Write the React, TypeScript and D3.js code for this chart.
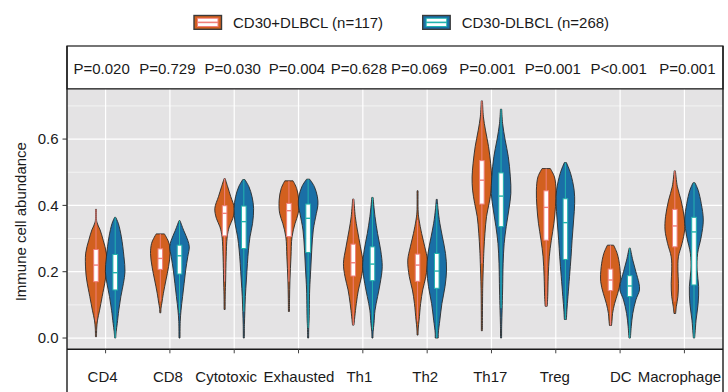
import React from 'react';
import * as d3 from 'd3';

const CATEGORIES = ['CD4', 'CD8', 'Cytotoxic', 'Exhausted', 'Th1', 'Th2', 'Th17', 'Treg', 'DC', 'Macrophage'];
const GROUPS = ['CD30+DLBCL (n=117)', 'CD30-DLBCL (n=268)'];
const P_VALUES = ['P=0.020', 'P=0.729', 'P=0.030', 'P=0.004', 'P=0.628', 'P=0.069', 'P=0.001', 'P=0.001', 'P<0.001', 'P=0.001'];
const Y_MAJOR = [0, 0.2, 0.4, 0.6];
const Y_MINOR = [0.1, 0.3, 0.5, 0.7];

// box stats: [lower whisker, q1, median, q3, upper whisker]
const POS_BOX = [
  [0.05, 0.17, 0.22, 0.267, 0.388],
  [0.11, 0.207, 0.24, 0.269, 0.314],
  [0.17, 0.308, 0.376, 0.399, 0.481],
  [0.17, 0.306, 0.384, 0.406, 0.474],
  [0.039, 0.187, 0.227, 0.283, 0.419],
  [0.05, 0.171, 0.22, 0.253, 0.356],
  [0.225, 0.404, 0.476, 0.535, 0.715],
  [0.096, 0.295, 0.394, 0.444, 0.511],
  [0.038, 0.143, 0.175, 0.208, 0.28],
  [0.11, 0.275, 0.338, 0.388, 0.504],
];
const NEG_BOX = [
  [0.0, 0.145, 0.197, 0.252, 0.364],
  [0.075, 0.193, 0.248, 0.28, 0.354],
  [0.08, 0.27, 0.351, 0.398, 0.478],
  [0.03, 0.258, 0.361, 0.404, 0.479],
  [0.025, 0.173, 0.223, 0.275, 0.424],
  [0.0, 0.15, 0.202, 0.255, 0.404],
  [0.09, 0.336, 0.428, 0.498, 0.69],
  [0.056, 0.237, 0.348, 0.42, 0.529],
  [0.0, 0.125, 0.157, 0.188, 0.271],
  [0.0, 0.16, 0.32, 0.364, 0.468],
];

// violin density profiles: [value, relative density]
const POS_DENS = [
  [[0.388, 0.5], [0.35, 0.8], [0.326, 4], [0.295, 7], [0.256, 10], [0.205, 10], [0.175, 9], [0.125, 6], [0.084, 3.5], [0.054, 1.5], [0.03, 0.7], [0.004, 0.5]],
  [[0.314, 4], [0.3, 6.5], [0.285, 8.5], [0.255, 9.5], [0.215, 8], [0.175, 5.5], [0.135, 3], [0.105, 1.5], [0.09, 0.7], [0.076, 0.5]],
  [[0.481, 0.5], [0.456, 3], [0.426, 6], [0.391, 9.5], [0.361, 8], [0.335, 4.5], [0.305, 2.5], [0.245, 1.5], [0.175, 1], [0.13, 0.6], [0.086, 0.5]],
  [[0.474, 4], [0.451, 7.5], [0.416, 9.5], [0.376, 9], [0.346, 6], [0.305, 3], [0.245, 2], [0.175, 1], [0.12, 0.6], [0.08, 0.5]],
  [[0.419, 0.6], [0.366, 2], [0.326, 4], [0.275, 7], [0.225, 9.5], [0.185, 8], [0.145, 5], [0.104, 3], [0.064, 1.5], [0.039, 0.7]],
  [[0.444, 0.5], [0.38, 0.6], [0.356, 1.5], [0.315, 4], [0.275, 7], [0.235, 9.5], [0.185, 8], [0.145, 5], [0.104, 3], [0.054, 1.5], [0.03, 0.7], [0.009, 0.5]],
  [[0.715, 0.6], [0.667, 1.5], [0.627, 3.5], [0.577, 6.5], [0.527, 8.5], [0.486, 9.5], [0.446, 9], [0.406, 7], [0.366, 4.5], [0.316, 3], [0.265, 2], [0.225, 1.5], [0.15, 0.8], [0.022, 0.5]],
  [[0.511, 4], [0.486, 8], [0.446, 9.5], [0.396, 9], [0.346, 7.5], [0.295, 5], [0.245, 3], [0.185, 2], [0.125, 1.5], [0.096, 1]],
  [[0.28, 3], [0.255, 6.5], [0.215, 9], [0.17, 9.5], [0.135, 7], [0.104, 4], [0.074, 2], [0.054, 1.5], [0.038, 1]],
  [[0.504, 0.6], [0.456, 2.5], [0.416, 6], [0.366, 9], [0.326, 9.5], [0.285, 7], [0.245, 3.5], [0.205, 3], [0.165, 3.5], [0.125, 3], [0.095, 1.5], [0.074, 0.8]],
];
const NEG_DENS = [
  [[0.364, 0.5], [0.346, 3], [0.305, 6], [0.245, 8.5], [0.2, 9.5], [0.165, 8], [0.125, 5.5], [0.084, 3.5], [0.044, 2], [0.02, 1], [0.0, 0.5]],
  [[0.354, 0.5], [0.325, 4], [0.295, 8], [0.275, 9.5], [0.245, 8], [0.205, 6], [0.165, 4.5], [0.125, 3], [0.084, 1.5], [0.05, 0.7], [0.0, 0.5]],
  [[0.478, 1], [0.456, 5], [0.426, 8], [0.391, 9.5], [0.346, 8.5], [0.305, 6], [0.265, 4.5], [0.225, 3.5], [0.175, 2.5], [0.125, 1.5], [0.08, 1], [0.04, 0.6], [0.0, 0.5]],
  [[0.479, 1.5], [0.457, 6], [0.426, 9], [0.401, 9.5], [0.376, 8], [0.326, 5], [0.265, 3.5], [0.205, 2.5], [0.145, 1.5], [0.06, 1], [0.03, 0.6], [0.0, 0.5]],
  [[0.424, 0.6], [0.366, 2.5], [0.315, 5], [0.265, 8], [0.215, 9.5], [0.165, 7.5], [0.125, 5], [0.084, 2.5], [0.044, 1.5], [0.02, 0.7], [0.0, 0.5]],
  [[0.418, 0.5], [0.39, 1.2], [0.346, 3], [0.305, 5.5], [0.255, 8.5], [0.205, 9.5], [0.155, 8], [0.104, 5], [0.054, 3], [0.015, 1.5], [0.0, 1.5]],
  [[0.69, 0.6], [0.647, 1.5], [0.597, 4], [0.547, 7], [0.486, 9], [0.436, 9.5], [0.386, 7.5], [0.336, 5], [0.285, 3], [0.225, 2], [0.145, 1.5], [0.084, 1], [0.04, 0.6], [0.0, 0.5]],
  [[0.529, 1], [0.497, 5], [0.446, 8.5], [0.406, 9], [0.356, 8], [0.295, 6.5], [0.245, 5.5], [0.185, 4], [0.125, 2.5], [0.085, 1.5], [0.056, 1]],
  [[0.271, 0.6], [0.235, 3], [0.2, 6], [0.165, 9], [0.145, 9.5], [0.115, 6], [0.074, 3], [0.034, 1.5], [0.0, 0.7]],
  [[0.468, 1], [0.446, 4], [0.406, 7], [0.356, 9], [0.305, 7], [0.255, 3.5], [0.205, 3], [0.155, 4.5], [0.104, 4], [0.054, 2], [0.015, 1], [0.0, 0.6]],
];

// layout nudges for the table-like label rows
const P_NUDGE = [-4, -2.5, -1.5, -1.5, -4, -8, -4, -3, -1.5, 3];
const LABEL_NUDGE = [-3, -2, -8, 0.4, -3.5, -2, -1.2, -1, 0.7, -5];

const FILL = ['#D2601F', '#1A6FA6'];
const ACCENT = ['#F07F7A', '#22B3AE'];
const FONT = 'Arial, "Liberation Sans", Helvetica, sans-serif';

const L = 67, R = 723, PT = 89, PB = 349.3, TT = 46;

export default function App() {
  const x = d3.scalePoint<string>().domain(CATEGORIES).range([L, R]).padding(0.6);
  const dodge = d3.scalePoint<string>().domain(GROUPS).range([-9.6, 9.6]);
  const y = d3.scaleLinear().domain([-0.034, 0.751]).range([PB, PT]);
  const w = d3.scaleLinear().domain([0, 9.5]).range([0, 9.8]);

  const series = [
    { box: POS_BOX, dens: POS_DENS },
    { box: NEG_BOX, dens: NEG_DENS },
  ];

  const violins: React.ReactNode[] = [];
  CATEGORIES.forEach((cat, ci) => {
    GROUPS.forEach((g, gi) => {
      const cx = (x(cat) as number) + (dodge(g) as number);
      const pts = [...series[gi].dens[ci]].sort((a, b) => a[0] - b[0]);
      const area = d3.area<number[]>()
        .y(d => y(d[0]))
        .x0(d => cx - w(d[1]))
        .x1(d => cx + w(d[1]))
        .curve(d3.curveCatmullRom.alpha(0.5));
      const [lo, q1, med, q3, hi] = series[gi].box[ci];
      const bw = 4.6;
      violins.push(
        <g key={cat + gi}>
          <path d={area(pts) || ''} fill={FILL[gi]} stroke="#2a2a2a" strokeWidth={0.9} />
          <line x1={cx} x2={cx} y1={y(lo)} y2={y(hi)} stroke={ACCENT[gi]} strokeWidth={1} />
          <rect x={cx - bw / 2} y={y(q3)} width={bw} height={y(q1) - y(q3)} fill="#ffffff" stroke={ACCENT[gi]} strokeWidth={1} />
          <line x1={cx - bw / 2} x2={cx + bw / 2} y1={y(med)} y2={y(med)} stroke={ACCENT[gi]} strokeWidth={1.4} />
        </g>
      );
    });
  });

  const legendX = [194, 422.7];
  const textColor = '#1a1a1a';

  return (
    <svg width={728} height={392} style={{ position: 'absolute', left: 0, top: 0, background: '#fff' }} fontFamily={FONT}>
      {/* legend */}
      {GROUPS.map((g, gi) => {
        const lx = legendX[gi];
        return (
          <g key={g}>
            <rect x={lx} y={15.5} width={27.5} height={13.8} fill={FILL[gi]} stroke="#3a3a3a" strokeWidth={1.4} />
            <rect x={lx + 3} y={17.8} width={21.5} height={9.2} fill={ACCENT[gi]} />
            <rect x={lx + 4} y={18.8} width={19.5} height={2.8} fill="#ffffff" />
            <rect x={lx + 4} y={23.2} width={19.5} height={2.8} fill="#ffffff" />
            <text x={lx + 39} y={28.4} fontSize={15} fill={textColor}>{g}</text>
          </g>
        );
      })}

      {/* top p-value panel */}
      <rect x={L} y={TT} width={R - L} height={PT - TT} fill="#fff" stroke="#1a1a1a" strokeWidth={1.2} />
      {CATEGORIES.map((cat, i) => (
        <text key={'p' + cat} x={(x(cat) as number) + P_NUDGE[i]} y={74} fontSize={15} textAnchor="middle" fill={textColor}>{P_VALUES[i]}</text>
      ))}

      {/* main panel */}
      <rect x={L} y={PT} width={R - L} height={PB - PT} fill="#E4E3E4" />
      {Y_MINOR.map(v => (
        <line key={'mi' + v} x1={L} x2={R} y1={y(v)} y2={y(v)} stroke="#fff" strokeWidth={0.6} />
      ))}
      {Y_MAJOR.map(v => (
        <line key={'ma' + v} x1={L} x2={R} y1={y(v)} y2={y(v)} stroke="#fff" strokeWidth={1.2} />
      ))}
      {CATEGORIES.map(cat => (
        <line key={'vx' + cat} x1={x(cat)} x2={x(cat)} y1={PT} y2={PB} stroke="#fff" strokeWidth={1.2} />
      ))}
      {violins}

      {/* borders */}
      <line x1={L} x2={R} y1={PT} y2={PT} stroke="#1a1a1a" strokeWidth={1.2} />
      <line x1={L} x2={R} y1={PB} y2={PB} stroke="#1a1a1a" strokeWidth={1.6} />
      <line x1={L} x2={L} y1={TT} y2={392} stroke="#1a1a1a" strokeWidth={1.4} />
      <line x1={R} x2={R} y1={TT} y2={392} stroke="#1a1a1a" strokeWidth={1.4} />

      {/* y axis */}
      {Y_MAJOR.map(v => (
        <g key={'yt' + v}>
          <line x1={L - 4.5} x2={L} y1={y(v)} y2={y(v)} stroke="#333" strokeWidth={1} />
          <text x={L - 8.5} y={y(v) + 5.3} fontSize={15} textAnchor="end" fill={textColor}>{v.toFixed(1)}</text>
        </g>
      ))}
      <text transform={`translate(25.5, 221.7) rotate(-90)`} fontSize={15} textAnchor="middle" fill={textColor}>Immune cell abundance</text>

      {/* x ticks and labels */}
      {CATEGORIES.map((cat, i) => (
        <g key={'xt' + cat}>
          <line x1={x(cat)} x2={x(cat)} y1={PB} y2={PB + 4} stroke="#444" strokeWidth={1} />
          <text x={(x(cat) as number) + LABEL_NUDGE[i]} y={381.7} fontSize={15} textAnchor="middle" fill={textColor}>{cat}</text>
        </g>
      ))}
    </svg>
  );
}
